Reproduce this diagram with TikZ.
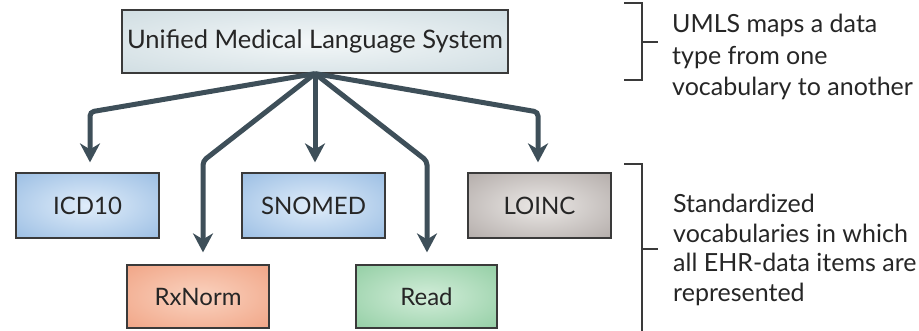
\documentclass[tikz,border=0pt]{standalone}
\usepackage{fontspec}
\setmainfont{Lato}
\usetikzlibrary{arrows.meta}

\definecolor{arrowc}{HTML}{3E4F59}
\definecolor{boxline}{HTML}{3A3A3A}
\definecolor{textc}{HTML}{262626}
\definecolor{bracketc}{HTML}{3A3A3A}

% soft radial glow that reaches the outer colour at the box edge
\pgfdeclareradialshading[glowin,glowout]{boxglow}{\pgfpoint{0bp}{0bp}}%
  {color(0bp)=(glowin); color(46bp)=(glowout); color(75bp)=(glowout)}

\tikzset{
  glow/.style 2 args={/utils/exec={\definecolor{glowin}{HTML}{#1}\definecolor{glowout}{HTML}{#2}},
    shade, shading=boxglow},
  termbox/.style={draw=boxline, line width=1.2pt, inner sep=0pt,
    minimum width=143pt, minimum height=65pt, text=textc,
    font=\fontsize{24}{28}\selectfont},
  flow/.style={draw=arrowc, line width=5pt, rounded corners=4pt,
    -{Stealth[length=19pt,width=20pt,inset=6pt]}},
  bracket/.style={draw=bracketc, line width=1.3pt},
  note/.style={anchor=north west, inner sep=0pt, align=left, text=textc,
    font=\fontsize{25}{31.5}\selectfont},
}

\begin{document}
\begin{tikzpicture}[x=1pt,y=-1pt]
  \useasboundingbox (0,0) rectangle (919,331);

  % umbrella system
  \node[termbox, glow={F3F7F8}{C6D6DC}, minimum width=386pt,
        minimum height=63pt, font=\fontsize{25.5}{30}\selectfont]
        (umls) at (315,41.5) {Unified Medical Language System};

  % first row of vocabularies
  \node[termbox, glow={E0EDFA}{88B1DD}] (icd) at (87.5,205.5) {ICD10};
  \node[termbox, glow={E0EDFA}{88B1DD}] (snomed) at (313.5,205.5) {SNOMED};
  \node[termbox, glow={EBE8E6}{A49C99}] (loinc) at (539.5,205.5) {LOINC};

  % second row of vocabularies
  \node[termbox, glow={FAD3C0}{EE9876}, minimum width=142pt,
        minimum height=63pt] (rxnorm) at (198,296.5) {RxNorm};
  \node[termbox, glow={D2EDD9}{82C696}, minimum width=141pt,
        minimum height=63pt] (read) at (426.5,296.5) {Read};

  % heights where the mapping arrows turn downwards
  \coordinate (turnhi) at (0,112);
  \coordinate (turnlo) at (0,161);

  % mapping arrows
  \draw[flow] (umls.south) -- ([xshift=2.5pt]icd.north |- turnhi)
              -- ([xshift=2.5pt,yshift=10pt]icd.north);
  \draw[flow] (umls.south) -- ([xshift=5pt]rxnorm.north |- turnlo)
              -- ([xshift=5pt,yshift=12pt]rxnorm.north);
  \draw[flow] (umls.south) -- ([yshift=10pt]snomed.north -| umls.south);
  \draw[flow] (umls.south) -- ([xshift=0.5pt]read.north |- turnlo)
              -- ([xshift=0.5pt,yshift=12pt]read.north);
  \draw[flow] (umls.south) -- ([xshift=-1.5pt]loinc.north |- turnhi)
              -- ([xshift=-1.5pt,yshift=10pt]loinc.north);

  % brackets with their explanations
  \draw[bracket] (624,3) -- (642,3) -- (642,80) -- (624,80);
  \draw[bracket] (642,42) -- (658,42);
  \node[note] (mapnote) at (672,14) {UMLS maps a data\\type from one\\vocabulary to another};

  \draw[bracket] (624,164) -- (642,164) -- (642,331);
  \draw[bracket] (642,249) -- (658,249);
  \node[note, font=\fontsize{25}{29.5}\selectfont] (stdnote) at (673,194)
        {Standardized\\vocabularies in which\\all EHR-data items are\\represented};
\end{tikzpicture}
\end{document}
